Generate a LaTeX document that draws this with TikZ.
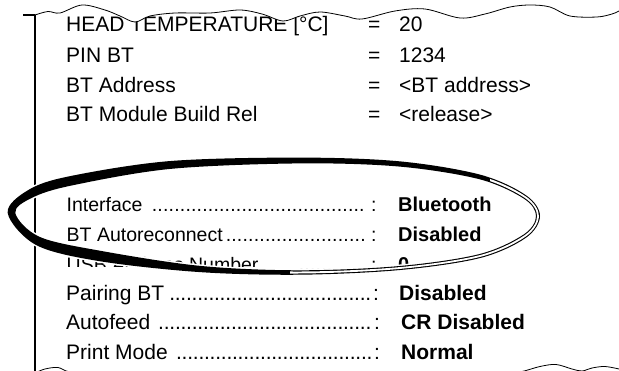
\documentclass[tikz,border=0pt]{standalone}
\usepackage{fontspec}
\setmainfont{Liberation Sans}

% a run of leader dots of a given width
\newcommand\dotrow[1]{\hbox to #1{\cleaders\hbox to 5.6pt{\hss.\hss}\hfill}}

% hand-drawn ring: #1 = offset across the stroke (+1 outer edge, -1 inner edge)
\newcommand\ringcurve[1]{plot[smooth cycle,tension=0.55] coordinates {
({11.5-3.8*(#1)},{213})
({30-2.0*(#1)},{194-3.8*(#1)})
({70-1.2*(#1)},{181-4.6*(#1)})
({170-0.46*(#1)},{165-3.9*(#1)})
({300},{160.5-2.9*(#1)})
({400+0.26*(#1)},{164-2.6*(#1)})
({480+0.48*(#1)},{177-2.25*(#1)})
({525+1.06*(#1)},{197-1.69*(#1)})
({538+2*(#1)},{216})
({525+1.06*(#1)},{236+1.69*(#1)})
({480+0.42*(#1)},{256+1.95*(#1)})
({400+0.2*(#1)},{268+1.99*(#1)})
({300},{272.5+2.2*(#1)})
({200-0.3*(#1)},{269+3.1*(#1)})
({100-1*(#1)},{256+5.1*(#1)})
({38-1.7*(#1)},{241+4.1*(#1)})
}}

% torn paper edges
\newcommand\topedge{plot[smooth,tension=0.55] coordinates {
(35,15) (48,11.5) (60,13) (82,5) (105,10) (120,16) (135,22) (150,16) (175,13)
(210,13) (240,10) (262,14) (283,21) (300,16) (320,12) (345,16) (362,19) (395,11)
(425,9) (460,18) (485,14) (510,7) (530,5) (550,7) (570,16) (597,17) (612,14) (619,11)}}
\newcommand\botedge{plot[smooth,tension=0.55] coordinates {
(35,373) (45,369) (58,367.5) (70,372) (100,374) (300,374) (500,374) (520,372)
(540,366.5) (556,364.5) (572,369) (582,371) (592,368) (605,366.5) (619,369)}}

\tikzset{
  bigtxt/.style={anchor=base west, inner sep=0pt, font=\fontsize{21}{24}\selectfont},
  bigval/.style={anchor=base west, inner sep=0pt, font=\fontsize{21}{24}\selectfont\bfseries},
  txt/.style={anchor=base west, inner sep=0pt, font=\fontsize{19.5}{24}\selectfont},
  val/.style={anchor=base west, inner sep=0pt, font=\fontsize{20}{24}\selectfont\bfseries},
  frameline/.style={line width=1.5pt, line join=miter},
  tornline/.style={line width=0.8pt},
}

\begin{document}
\begin{tikzpicture}[x=1pt,y=-1pt]
\useasboundingbox (0,0) rectangle (619,371);
\fill[white] (0,0) rectangle (619,371);

% left margin of the printout
\draw[frameline] (23,15) -- (35,15) -- (35,371);

% configuration block
\node[bigtxt] (hd)    at (66,32)   {HEAD TEMPERATURE [°C]};
\node[bigtxt] (hdeq)  at (368,32)  {=};
\node[bigtxt] (hdval) at (399,32)  {20};
\node[bigtxt] (pin)    at (66,62.5)  {PIN BT};
\node[bigtxt] (pineq)  at (368,62.5) {=};
\node[bigtxt] (pinval) at (399,62.5) {1234};
\node[bigtxt] (addr)    at (66,92.5)  {BT Address};
\node[bigtxt] (addreq)  at (368,92.5) {=};
\node[bigtxt] (addrval) at (399,92.5) {<BT address>};
\node[bigtxt] (rel)    at (66,122)  {BT Module Build Rel};
\node[bigtxt] (releq)  at (368,122) {=};
\node[bigtxt] (relval) at (399,122) {<release>};

% interface block
\node[txt] (ifc)     at (66.5,212)  {Interface};
\node[txt] (ifcdots) at (150,212) {\dotrow{216pt}};
\node[txt] (ifccol)  at (371,212) {:};
\node[val] (ifcval)  at (398,212) {Bluetooth};

\node[txt] (auto)     at (66.5,241.5)  {BT Autoreconnect};
\node[txt] (autodots) at (225,241.5) {\dotrow{141pt}};
\node[txt] (autocol)  at (371,241.5) {:};
\node[val] (autoval)  at (398,241.5) {Disabled};

\begin{scope}
  \clip (0,0) rectangle (619,267);
  \node[txt] (usb)    at (66.5,271.5)  {USB Address Number};
  \node[txt] (usbcol) at (371,271.5) {:};
  \node[val] (usbval) at (398,271.5) {0};
\end{scope}
\node[txt] (usbdots) at (296,271.5) {\dotrow{50pt}};

\node[bigtxt] (pair)     at (66,300.5)  {Pairing BT};
\node[bigtxt] (pairdots) at (168,300.5) {\dotrow{204pt}};
\node[bigtxt] (paircol)  at (373,300.5) {:};
\node[bigval] (pairval)  at (399,300.5) {Disabled};

\node[bigtxt] (feed)     at (66,330)  {Autofeed};
\node[bigtxt] (feeddots) at (156,330) {\dotrow{217pt}};
\node[bigtxt] (feedcol)  at (374,330) {:};
\node[bigval] (feedval)  at (401,330) {CR Disabled};

\node[bigtxt] (mode)     at (66,359.5)  {Print Mode};
\node[bigtxt] (modedots) at (175,359.5) {\dotrow{198pt}};
\node[bigtxt] (modecol)  at (374,359.5) {:};
\node[bigval] (modeval)  at (401,359.5) {Normal};

% brush ring around the interface settings
\draw[white, line width=3pt] \ringcurve{1};
\draw[white, line width=3pt] \ringcurve{-1};
\fill[black, even odd rule] \ringcurve{1} \ringcurve{-1};
\begin{scope}
  \clip (490,140) -- (625,140) -- (625,300) -- (290,300) -- (290,222) -- (490,222) -- cycle;
  \fill[white, even odd rule] \ringcurve{0.45} \ringcurve{-0.45};
\end{scope}

% torn top and bottom of the paper
\fill[white] \topedge -- (619,0) -- (35,0) -- cycle;
\draw[tornline] \topedge;
\fill[white] \botedge -- (619,385) -- (35,385) -- cycle;
\draw[tornline] \botedge;
\end{tikzpicture}
\end{document}
